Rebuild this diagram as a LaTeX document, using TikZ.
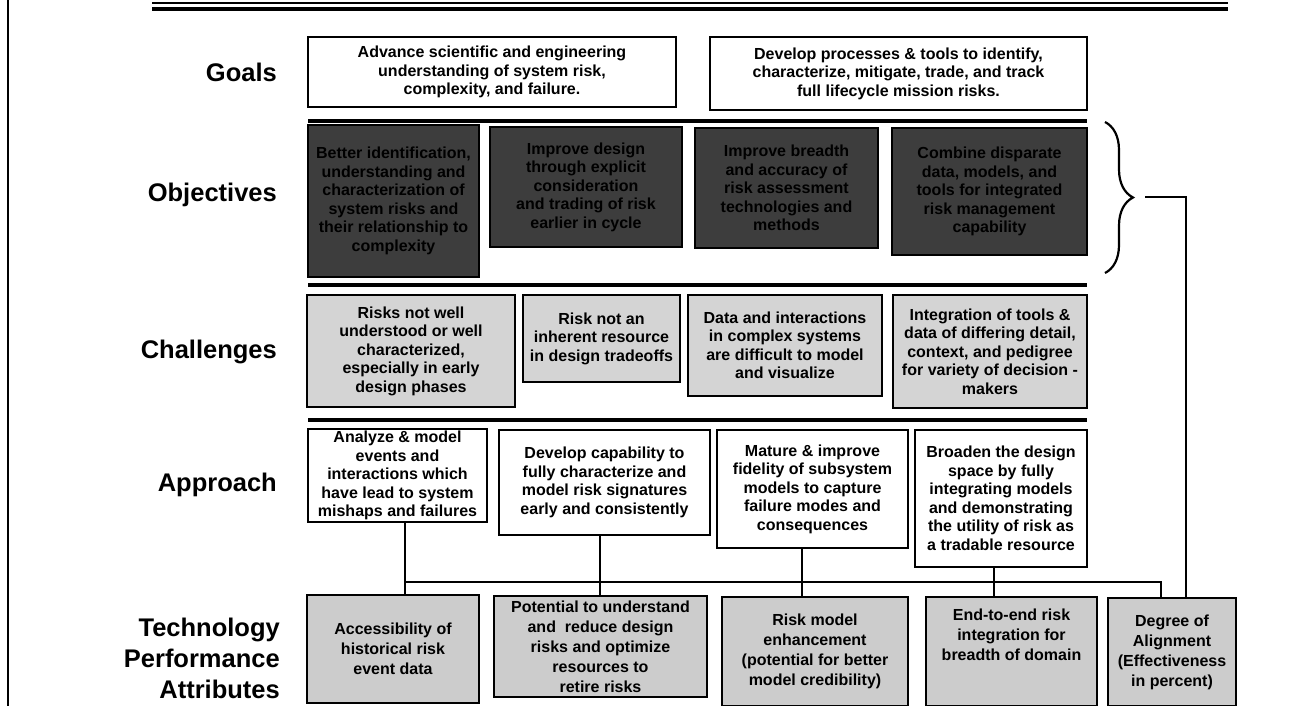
\documentclass[tikz,border=0pt]{standalone}
\usepackage{fontspec}
\setmainfont{Liberation Sans}
\usetikzlibrary{decorations.pathreplacing}

\begin{document}
\begin{tikzpicture}[x=1pt, y=-1pt,
    box/.style={rectangle, draw=black, line width=1.3pt, align=center, inner sep=2pt, font=\fontsize{16}{18.5}\selectfont\bfseries},
    goalbox/.style={box, fill=white},
    objbox/.style={box, fill=black!76},
    chalbox/.style={box, fill=black!17},
    appbox/.style={box, fill=white},
    attrbox/.style={box, fill=black!20, font=\fontsize{16}{20}\selectfont\bfseries},
    rowlabel/.style={anchor=east, align=right, inner sep=0pt, font=\fontsize{25.5}{31}\selectfont\bfseries},
    sepline/.style={line width=4pt},
    conn/.style={draw=black, line width=2pt}
]
\fill[white] (0,0) rectangle (1312,706);
\useasboundingbox (0,0) rectangle (1312,706);

% frame
\draw[line width=2pt] (8,0) -- (8,706);
\draw[line width=1.2pt] (152,3) -- (1228,3);
\draw[line width=3.5pt] (152,9) -- (1228,9);

% row labels
\node[rowlabel] (lgoals) at (277,72) {Goals};
\node[rowlabel] (lobj) at (277,195) {Objectives};
\node[rowlabel] (lchal) at (277,352) {Challenges};
\node[rowlabel] (lapp) at (277,485) {Approach};
\node[rowlabel] (lattr) at (280,658) {Technology\\Performance\\Attributes};

% goals
\node[goalbox, minimum width=368pt, minimum height=70pt] (g1) at (492,72) {Advance scientific and engineering\\understanding of system risk,\\complexity, and failure.};
\node[goalbox, minimum width=377pt, minimum height=73pt] (g2) at (898.5,73.5) {Develop processes \& tools to identify,\\characterize, mitigate, trade, and track\\full lifecycle mission risks.};

\draw[sepline] (308,121) -- (1087,121);

% objectives
\node[objbox, minimum width=171pt, minimum height=152pt] (o1) at (393.5,201) {Better identification,\\understanding and\\characterization of\\system risks and\\their relationship to\\complexity};
\node[objbox, minimum width=192pt, minimum height=120pt] (o2) at (586,187) {Improve design\\through explicit\\consideration\\and trading of risk\\earlier in cycle};
\node[objbox, minimum width=183pt, minimum height=120pt] (o3) at (786.5,188) {Improve breadth\\and accuracy of\\risk assessment\\technologies and\\methods};
\node[objbox, minimum width=195pt, minimum height=127pt] (o4) at (989.5,191.5) {Combine disparate\\data, models, and\\tools for integrated\\risk management\\capability};

\draw[sepline] (308,285) -- (1087,285);

% challenges
\node[chalbox, minimum width=208pt, minimum height=112pt] (c1) at (411,351) {Risks not well\\understood or well\\characterized,\\especially in early\\design phases};
\node[chalbox, minimum width=157pt, minimum height=87pt] (c2) at (601.5,338.5) {Risk not an\\inherent resource\\in design tradeoffs};
\node[chalbox, minimum width=194pt, minimum height=101pt] (c3) at (785,345.5) {Data and interactions\\in complex systems\\are difficult to model\\and visualize};
\node[chalbox, minimum width=194pt, minimum height=113pt] (c4) at (990,351.5) {Integration of tools \&\\data of differing detail,\\context, and pedigree\\for variety of decision -\\makers};

\draw[sepline] (308,420) -- (1087,420);

% approach
\node[appbox, minimum width=179pt, minimum height=91pt] (a1) at (397.5,475.5) {Analyze \& model\\events and\\interactions which\\have lead to system\\mishaps and failures};
\node[appbox, minimum width=211pt, minimum height=105pt] (a2) at (604.5,482.5) {Develop capability to\\fully characterize and\\model risk signatures\\early and consistently};
\node[appbox, minimum width=191pt, minimum height=118pt] (a3) at (812.5,489) {Mature \& improve\\fidelity of subsystem\\models to capture\\failure modes and\\consequences};
\node[appbox, minimum width=172pt, minimum height=137pt] (a4) at (1001,498.5) {Broaden the design\\space by fully\\integrating models\\and demonstrating\\the utility of risk as\\a tradable resource};

% technology performance attributes
\node[attrbox, minimum width=172pt, minimum height=108pt] (t1) at (393,649) {Accessibility of\\historical risk\\event data};
\node[attrbox, minimum width=213pt, minimum height=101pt] (t2) at (600.5,646.5) {Potential to understand\\and\ \ reduce design\\risks and optimize\\resources to\\retire risks};
\node[attrbox, minimum width=186pt, minimum height=109pt] (t3) at (815,651.5) {Risk model\\enhancement\\(potential for better\\model credibility)};
\node[attrbox, minimum width=171pt, minimum height=109pt] (t4) at (1011.5,651.5) {End-to-end risk\\integration for\\breadth of domain\\[14pt]};
\node[attrbox, minimum width=128pt, minimum height=108pt] (t5) at (1172,652) {Degree of\\Alignment\\(Effectiveness\\in percent)};

% connectors
\coordinate (bus1) at (405,582);
\coordinate (bus2) at (600,582);
\coordinate (bus3) at (802,582);
\coordinate (bus4) at (994,582);
\draw[conn] (a1.south -| bus1) -- (t1.north -| bus1);
\draw[conn] (a2.south -| bus2) -- (t2.north -| bus2);
\draw[conn] (a3.south -| bus3) -- (t3.north -| bus3);
\draw[conn] (a4.south -| bus4) -- (t4.north -| bus4);
\draw[conn] (bus1) -| ([xshift=-11pt]t5.north);

% brace over objectives
\draw[line width=2.2pt, decorate, decoration={brace, amplitude=28pt}] (1105,122) -- (1105,273);
\coordinate (bracetip) at (1145,197);
\draw[conn] (bracetip) -| ([xshift=14pt]t5.north);
\end{tikzpicture}
\end{document}
